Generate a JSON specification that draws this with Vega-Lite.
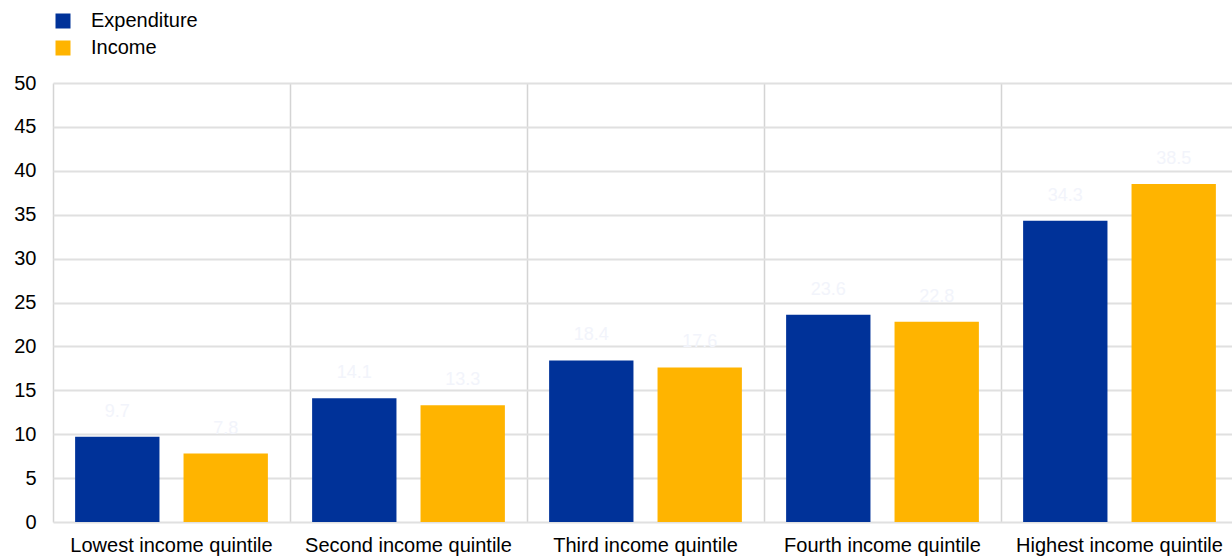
{
  "$schema": "https://vega.github.io/schema/vega-lite/v6.json",
  "autosize": {"type": "none"},
  "padding": {"left": 52, "top": 83, "right": 0, "bottom": 35},
  "width": 1180,
  "height": 439,
  "background": "white",
  "config": {
    "view": {"stroke": null},
    "font": "Liberation Sans"
  },
  "data": {
    "values": [
      {"quintile": "Lowest income quintile", "series": "Expenditure", "value": 9.7},
      {"quintile": "Lowest income quintile", "series": "Income", "value": 7.8},
      {"quintile": "Second income quintile", "series": "Expenditure", "value": 14.1},
      {"quintile": "Second income quintile", "series": "Income", "value": 13.3},
      {"quintile": "Third income quintile", "series": "Expenditure", "value": 18.4},
      {"quintile": "Third income quintile", "series": "Income", "value": 17.6},
      {"quintile": "Fourth income quintile", "series": "Expenditure", "value": 23.6},
      {"quintile": "Fourth income quintile", "series": "Income", "value": 22.8},
      {"quintile": "Highest income quintile", "series": "Expenditure", "value": 34.3},
      {"quintile": "Highest income quintile", "series": "Income", "value": 38.5}
    ]
  },
  "encoding": {
    "x": {
      "field": "quintile",
      "type": "nominal",
      "sort": null,
      "title": null,
      "scale": {"paddingInner": 0, "paddingOuter": 0, "range": [1, 1186]},
      "axis": {
        "grid": true,
        "bandPosition": 0,
        "gridColor": "#d4d4d4",
        "gridWidth": 1.5,
        "domain": false,
        "ticks": false,
        "labelAngle": 0,
        "labelFontSize": 20,
        "labelLimit": 0,
        "labelColor": "#000000",
        "labelPadding": 13
      }
    },
    "xOffset": {
      "field": "series",
      "type": "nominal",
      "scale": {"paddingInner": 0.222, "paddingOuter": 0.204}
    },
    "y": {
      "field": "value",
      "type": "quantitative",
      "title": null,
      "scale": {"domain": [0, 50], "nice": false},
      "axis": {
        "values": [0, 5, 10, 15, 20, 25, 30, 35, 40, 45, 50],
        "grid": true,
        "gridColor": "#e0e0e0",
        "gridWidth": 2,
        "domain": false,
        "ticks": false,
        "labelFontSize": 20,
        "labelColor": "#000000",
        "labelPadding": 16
      }
    }
  },
  "layer": [
    {
      "mark": {"type": "bar"},
      "encoding": {
        "color": {
          "field": "series",
          "type": "nominal",
          "scale": {"domain": ["Expenditure", "Income"], "range": ["#003299", "#ffb400"]},
          "legend": {
            "title": null,
            "orient": "none",
            "legendX": 1,
            "legendY": -72,
            "symbolType": "square",
            "symbolSize": 225,
            "symbolStrokeWidth": 0,
            "labelFontSize": 20,
            "labelColor": "#000000",
            "labelOffset": 18,
            "rowPadding": 7
          }
        }
      }
    },
    {
      "mark": {"type": "text", "dy": -25, "fontSize": 18, "color": "#f2f4fb"},
      "encoding": {
        "text": {"field": "value", "type": "quantitative", "format": ".1f"}
      }
    }
  ]
}
